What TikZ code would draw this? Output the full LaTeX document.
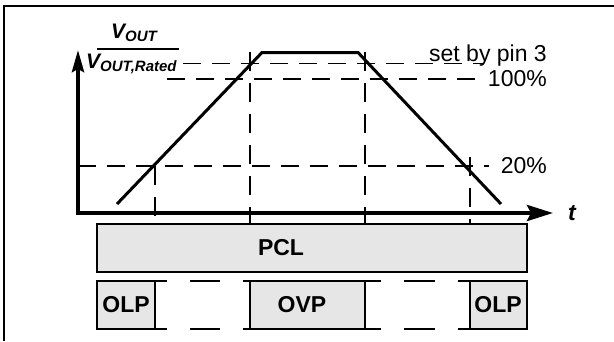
\documentclass[tikz,border=0pt]{standalone}
\usepackage{fontspec}
\setmainfont{Liberation Sans}
\usetikzlibrary{arrows.meta}
\definecolor{boxfill}{RGB}{230,230,230}
\newcommand{\subtxt}[1]{{\fontsize{15}{17}\selectfont\raisebox{-3.5pt}{#1}}}
\begin{document}
\begin{tikzpicture}[x=1pt,y=-1pt,
  axis/.style={line width=4pt, line join=miter},
  curve/.style={line width=3pt, line join=miter},
  guide/.style={line width=1.6pt, dash pattern=on 18pt off 11pt},
  vguide/.style={line width=1.6pt, dash pattern=on 19pt off 12pt},
  blk/.style={draw, line width=2.5pt, fill=boxfill},
  seg/.style={line width=2.5pt},
  lbl/.style={inner sep=0pt, font=\fontsize{23}{27}\selectfont},
  blbl/.style={inner sep=0pt, font=\bfseries\fontsize{23}{27}\selectfont},
  vlbl/.style={inner sep=0pt, anchor=base west, font=\bfseries\itshape\fontsize{21}{24}\selectfont},
]
\useasboundingbox (0,0) rectangle (614,341);
% frame
\draw[line width=2.5pt] (4,341) -- (4,6) -- (614,6);

% guide lines
\draw[guide] (183,63.5) -- (484,63.5);
\draw[guide] (167,79) -- (484,79);
\draw[guide] (78,166) -- (489,166);
\draw[vguide] (155,166) -- (155,224);
\draw[vguide] (250,52) -- (250,224);
\draw[vguide] (365,52) -- (365,224);
\draw[vguide] (470,157) -- (470,224);

% curve
\draw[curve] (117,204) -- (262,52.5) -- (358,52.5) -- (501,204);

% axes
\draw[axis, {Stealth[length=22pt,width=12pt,inset=3pt]}-{Stealth[length=26pt,width=16pt,inset=4pt]}]
  (78,50) -- (78,213) -- (553,213);

% boxes
\draw[blk] (97,224) rectangle (527,272);
\draw[blk] (97,281) rectangle (155,329);
\draw[blk] (250,281) rectangle (365,329);
\draw[blk] (470,281) rectangle (527,329);
\foreach \yy in {281,329}{
  \draw[seg] (155,\yy) -- (167,\yy);
  \draw[seg] (190,\yy) -- (220,\yy);
  \draw[seg] (243,\yy) -- (250,\yy);
  \draw[seg] (365,\yy) -- (381,\yy);
  \draw[seg] (404,\yy) -- (435,\yy);
  \draw[seg] (458,\yy) -- (470,\yy);
}

% labels
\node[blbl] (pcl) at (281,248) {PCL};
\node[blbl] (olpa) at (126,305) {OLP};
\node[blbl] (ovp) at (302,305) {OVP};
\node[blbl] (olpb) at (498,305) {OLP};
\node[lbl, anchor=base east] (setby) at (547,61) {set by pin 3};
\node[lbl, anchor=east] (hundred) at (547,79) {100\%};
\node[lbl, anchor=east] (twenty) at (547,166) {20\%};
\node[inner sep=0pt, font=\bfseries\itshape\fontsize{23}{27}\selectfont] (tlab) at (572,213) {t};

% fraction
\node[vlbl] (num) at (111,38) {V\subtxt{OUT}};
\node[vlbl] (den) at (86,68) {V\subtxt{OUT,Rated}};
\draw[line width=2pt] (97,48.5) -- (179,48.5);
\end{tikzpicture}
\end{document}
